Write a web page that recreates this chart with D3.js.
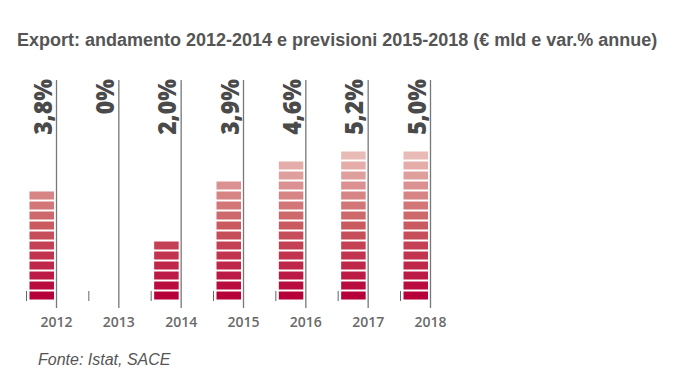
<!DOCTYPE html>
<html>
<head>
<meta charset="utf-8">
<script src="https://cdn.jsdelivr.net/npm/d3@7"></script>
<style>
  html, body { margin: 0; padding: 0; background: #fff; }
  svg { display: block; }
</style>
</head>
<body>
<svg id="chart" width="681" height="391"></svg>
<script>
// ---- data ----
const years = ["2012", "2013", "2014", "2015", "2016", "2017", "2018"];
const segments = [11, 0, 6, 12, 14, 15, 15];            // stacked blocks per bar (export level, € mld, schematic)
const growthLabels = ["3,8%", "0%", "2,0%", "3,9%", "4,6%", "5,2%", "5,0%"]; // var.% annue
const maxSegments = 15;
const titleText = "Export: andamento 2012-2014 e previsioni 2015-2018 (€ mld e var.% annue)";
const sourceText = "Fonte: Istat, SACE";

const svg = d3.select("#chart");

// scales
const x = d3.scalePoint().domain(years).range([56.5, 430.5]).padding(0);
const y = d3.scaleLinear().domain([0, maxSegments]).range([300.5, 150.5]);
const color = d3.scaleLinear()
  .domain([0, 7, 14])
  .range(["#b6003a", "#c95a5f", "#e8bbb6"])
  .interpolate(d3.interpolateRgb);

const data = years.map((yr, i) => ({ year: yr, n: segments[i], label: growthLabels[i] }));

// title
svg.append("text")
  .attr("x", 17).attr("y", 46)
  .attr("font-family", "Liberation Sans, Arial, sans-serif")
  .attr("font-weight", "bold")
  .attr("font-size", 18)
  .attr("fill", "#555")
  .text(titleText);

const g = svg.append("g");

const groups = g.selectAll("g.year").data(data).join("g").attr("class", "year");

// vertical lines
groups.append("line")
  .attr("x1", d => x(d.year)).attr("x2", d => x(d.year))
  .attr("y1", 80).attr("y2", 308)
  .attr("stroke", "#777").attr("stroke-width", 1.3);

// small left ticks
groups.append("line")
  .attr("x1", d => x(d.year) - 30).attr("x2", d => x(d.year) - 30)
  .attr("y1", 291).attr("y2", 301)
  .attr("stroke", "#666").attr("stroke-width", 1);

// segments
groups.each(function(d) {
  d3.select(this).selectAll("rect")
    .data(d3.range(d.n))
    .join("rect")
    .attr("x", x(d.year) - 27)
    .attr("width", 24.5)
    .attr("y", k => y(k + 1) + 1)
    .attr("height", y(0) - y(1) - 2)
    .attr("fill", k => color(k));
});

// rotated growth labels
groups.append("text")
  .attr("transform", d => `translate(${x(d.year) - 5},79) rotate(-90) scale(0.92,1)`)
  .attr("text-anchor", "end")
  .attr("font-family", "Open Sans, Liberation Sans, Arial, sans-serif")
  .attr("font-weight", 800)
  .attr("font-size", 25)
  .attr("fill", "#4a4a4a")
  .text(d => d.label);

// year labels
groups.append("text")
  .attr("x", d => x(d.year))
  .attr("y", 327)
  .attr("text-anchor", "middle")
  .attr("font-family", "Open Sans, Liberation Sans, Arial, sans-serif")
  .attr("font-weight", 600)
  .attr("font-size", 14)
  .attr("fill", "#6a6a6a")
  .text(d => d.year);

// source
svg.append("text")
  .attr("x", 38).attr("y", 365)
  .attr("font-family", "Liberation Sans, Arial, sans-serif")
  .attr("font-style", "italic")
  .attr("font-size", 16)
  .attr("fill", "#555")
  .text(sourceText);
</script>
</body>
</html>
